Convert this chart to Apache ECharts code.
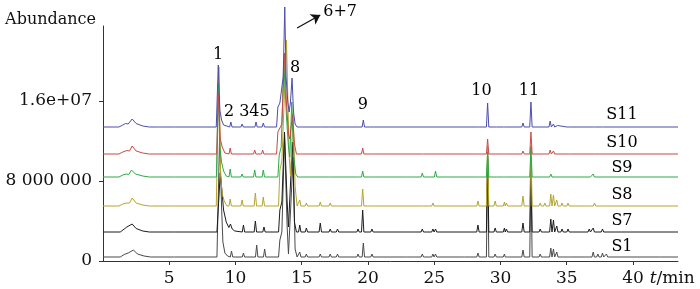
<!DOCTYPE html>
<html>
<head>
<meta charset="utf-8">
<script src="https://cdn.jsdelivr.net/npm/echarts@6/dist/echarts.min.js"></script>
<style>
  html, body { margin: 0; padding: 0; background: #fff; }
  #chart { width: 700px; height: 289px; }
</style>
</head>
<body>
<div id="chart"></div>
<script>
// abundance values in units of 1e6, time in min
const UNIT = 1e6;
const sampleNames = ['S1', 'S7', 'S8', 'S9', 'S10', 'S11'];
// vertical offset of each trace in the stacked plot
const offsets = [0.4, 2.9, 5.5, 8.4, 10.7, 13.4];

const xTicks = [5, 10, 15, 20, 25, 30, 35, 40];
const yTickValues = [0, 8e6, 16e6];
const yTickLabels = ['0', '8 000 000', '1.6e+07'];

// broad / overlapping regions as [t, signal]
const s1Shape = [
  [1.3, 0], [1.6, 0.25], [1.9, 0.4], [2.05, 0.3], [2.3, 0.7], [2.6, 0.3], [3.1, 0.1], [3.6, 0],
  [8.6, 0], [8.8, 12.0], [8.95, 5.0], [9.05, 1.5], [9.2, 0.4], [9.4, 0.1], [9.5, 0],
  [13.25, 0], [13.35, 1.7], [13.5, 2.5], [13.7, 12.0], [13.9, 3.0], [14.0, 0.3], [14.1, 0.3], [14.35, 10.0], [14.5, 0.8], [14.65, 0]
];
const s7Shape = [
  [1.3, 0], [1.6, 0.3], [1.8, 0.5], [1.95, 0.35], [2.2, 0.8], [2.5, 0.35], [3.0, 0.1], [3.5, 0],
  [8.6, 0], [8.85, 5.9], [8.95, 4.5], [9.1, 2.2], [9.3, 1.0], [9.5, 0.45], [9.62, 0.8], [9.75, 0.3], [9.95, 0.1], [10.1, 0],
  [13.25, 0], [13.35, 2.2], [13.5, 3.0], [13.7, 10.0], [13.9, 3.0], [14.0, 0.5], [14.1, 0.5], [14.3, 9.0], [14.45, 1.0], [14.6, 0]
];
const s8Shape = [
  [1.2, 0], [1.5, 0.2], [1.8, 0.3], [2.0, 0.3], [2.2, 0.8], [2.5, 0.3], [3.0, 0.1], [3.5, 0],
  [8.55, 0], [8.75, 13.9], [8.88, 3.0], [9.0, 1.2], [9.15, 0.5], [9.35, 0],
  [13.25, 0], [13.35, 3.6], [13.5, 4.5], [13.85, 16.6], [14.05, 5.0], [14.15, 3.0], [14.35, 9.3], [14.5, 2.0], [14.65, 0]
];
const s9Shape = [
  [1.2, 0], [1.5, 0.2], [1.75, 0.3], [1.95, 0.25], [2.15, 0.7], [2.45, 0.3], [3.0, 0.1], [3.5, 0],
  [8.56, 0], [8.7, 9.4], [8.82, 3.0], [8.95, 1.5], [9.1, 0.6], [9.3, 0.1], [9.4, 0],
  [13.2, 0], [13.3, 2.2], [13.45, 3.0], [13.65, 11.5], [13.85, 6.0], [14.0, 3.0], [14.1, 2.0], [14.25, 7.5], [14.4, 2.0], [14.55, 0.3], [14.7, 0]
];
const s10Shape = [
  [1.2, 0], [1.5, 0.2], [1.8, 0.35], [2.0, 0.3], [2.2, 0.8], [2.5, 0.3], [3.0, 0.1], [3.5, 0],
  [8.58, 0], [8.72, 6.1], [8.85, 1.5], [9.0, 0.7], [9.2, 0.1], [9.3, 0],
  [13.1, 0], [13.2, 2.2], [13.35, 2.4], [13.5, 3.0], [13.7, 10.1], [13.85, 5.0], [14.0, 2.0], [14.1, 1.5], [14.3, 3.9], [14.45, 1.0], [14.6, 0]
];
const s11Shape = [
  [1.2, 0], [1.5, 0.2], [1.7, 0.35], [1.9, 0.3], [2.2, 0.8], [2.5, 0.35], [3.0, 0.1], [3.5, 0],
  [8.55, 0], [8.7, 6.2], [8.82, 1.7], [8.95, 0.7], [9.1, 0.2], [9.2, 0],
  [13.1, 0], [13.2, 2.0], [13.35, 2.4], [13.5, 2.6], [13.6, 5.0], [13.72, 12.0], [13.82, 5.0], [13.95, 2.5], [14.05, 1.5], [14.15, 2.5], [14.27, 4.9], [14.38, 1.5], [14.5, 0.3], [14.65, 0]
];

// isolated sharp peaks as [t, height]
const s1Peaks = [[5.3, 0.15], [9.7, 0.6], [10.6, 0.4], [11.6, 1.2], [12.2, 0.8], [14.85, 0.5], [15.35, 0.3], [16.4, 0.3], [17.15, 0.3], [17.7, 0.3], [19.25, 0.3], [19.65, 1.4], [20.3, 0.3], [22.8, 0.1], [23.4, 0.2], [24.1, 0.3], [24.9, 0.3], [25.1, 0.3], [27.2, 0.1], [28.3, 0.4], [29.03, 10.0], [29.6, 0.3], [30.3, 0.3], [30.45, 0.2], [31.7, 0.7], [32.3, 9.0], [33.0, 0.3], [33.35, 0.2], [33.8, 0.9], [34.0, 0.8], [34.25, 0.5], [34.65, 0.2], [35.1, 0.2], [36.5, 0.2], [37.0, 0.5], [37.35, 0.3], [37.7, 0.4], [38.0, 0.3], [42.1, 0.2]];
const s7Peaks = [[5.3, 0.1], [10.6, 0.7], [11.5, 1.1], [12.15, 0.5], [14.85, 0.7], [15.35, 0.4], [16.4, 0.9], [17.15, 0.3], [17.7, 0.3], [19.25, 0.3], [19.6, 2.2], [20.3, 0.3], [22.8, 0.1], [23.4, 0.1], [24.1, 0.3], [24.9, 0.3], [25.1, 0.3], [28.3, 0.7], [29.03, 8.0], [29.6, 0.4], [30.3, 0.4], [30.45, 0.3], [31.7, 0.9], [32.3, 7.0], [33.0, 0.3], [33.35, 0.2], [33.8, 1.3], [34.0, 1.2], [34.25, 0.6], [34.65, 0.3], [35.1, 0.3], [36.7, 0.3], [37.0, 0.4], [37.7, 0.3]];
const s8Peaks = [[5.3, 0.15], [9.6, 0.7], [10.5, 0.6], [11.5, 1.3], [12.1, 0.9], [14.85, 0.6], [15.35, 0.3], [16.4, 0.4], [17.15, 0.3], [17.7, 0.2], [19.25, 0.2], [19.6, 1.7], [20.3, 0.2], [24.1, 0.2], [24.9, 0.3], [25.1, 0.2], [28.3, 0.5], [29.03, 6.0], [29.6, 0.5], [30.3, 0.4], [30.45, 0.3], [31.7, 1.0], [32.3, 6.0], [33.0, 0.3], [33.35, 0.3], [33.8, 1.2], [34.0, 1.1], [34.25, 0.6], [34.65, 0.3], [35.1, 0.3], [36.7, 0.2], [37.1, 0.3], [37.7, 0.2]];
const s9Peaks = [[5.3, 0.15], [9.6, 0.8], [10.5, 0.3], [11.45, 0.7], [12.1, 0.7], [15.0, 0.1], [17.2, 0.2], [19.25, 0.2], [19.6, 0.6], [20.3, 0.2], [22.8, 0.1], [23.4, 0.2], [24.1, 0.4], [25.1, 0.6], [28.3, 0.2], [29.03, 2.5], [29.6, 0.2], [30.3, 0.2], [31.7, 0.1], [32.3, 3.0], [33.8, 0.3], [36.7, 0.2], [37.0, 0.3]];
const s10Peaks = [[5.3, 0.15], [9.6, 0.6], [10.5, 0.2], [11.45, 0.4], [12.05, 0.4], [15.0, 0.1], [17.2, 0.1], [19.6, 0.6], [20.3, 0.1], [24.1, 0.1], [28.3, 0.2], [29.03, 1.5], [30.3, 0.2], [31.7, 0.3], [32.3, 2.2], [33.75, 0.4], [34.0, 0.3], [35.2, 0.1], [37.0, 0.1]];
const s11Peaks = [[4.3, 0.1], [5.3, 0.2], [9.65, 0.5], [10.5, 0.3], [11.55, 0.5], [12.1, 0.4], [15.0, 0.1], [16.4, 0.1], [17.2, 0.1], [19.65, 0.7], [20.3, 0.1], [28.3, 0.2], [29.03, 2.4], [29.6, 0.2], [30.3, 0.1], [31.7, 0.4], [32.3, 2.5], [33.75, 0.6], [34.0, 0.3], [34.3, 0.15], [35.1, 0.1], [37.1, 0.15], [37.7, 0.15]];

// annotations [t, abundance, text]
const peakLabels = [[8.68, 20.6, '1'], [9.51, 14.9, '2'], [11.43, 14.9, '345'], [14.49, 19.3, '8'], [17.9, 24.9, '6+7'], [19.62, 15.6, '9'], [28.57, 17.0, '10'], [32.15, 17.0, '11']];
const sampleLabelPos = [[39.17, 1.4], [39.17, 4.0], [39.17, 6.6], [39.17, 9.3], [39.17, 11.8], [39.17, 14.6]];
const arrowCoords = [[14.65, 23.3], [16.4, 24.6]];

const X_MIN = 0, X_MAX = 43.4;
const shapes = [s1Shape, s7Shape, s8Shape, s9Shape, s10Shape, s11Shape];
const peakSets = [s1Peaks, s7Peaks, s8Peaks, s9Peaks, s10Peaks, s11Peaks];
const colors = ['#4a4a4a', '#1c1c1c', '#b5a52c', '#2caa45', '#c64b47', '#4d4dab'];
const HW = 0.09; // half width of a sharp peak drawn as a spike
const FONT = 'DejaVu Serif';

function buildTrace(shape, peaks, offset) {
  const pts = shape.slice();
  peaks.forEach(([t, h]) => {
    pts.push([t - HW, 0], [t, h], [t + HW, 0]);
  });
  pts.push([X_MIN, 0], [X_MAX, 0]);
  pts.sort((a, b) => a[0] - b[0]);
  return pts.map(([t, v]) => [t, (v + offset) * UNIT]);
}

const textLabel = {
  show: true,
  position: 'inside',
  formatter: p => p.data[2],
  color: '#000',
  opacity: 1,
  textBorderWidth: 0,
  fontFamily: FONT,
  fontSize: 16
};

const series = sampleNames.map((name, i) => ({
  name: name,
  type: 'line',
  data: buildTrace(shapes[i], peakSets[i], offsets[i]),
  showSymbol: false,
  symbol: 'none',
  clip: false,
  lineStyle: { color: colors[i], width: 1 },
  emphasis: { disabled: true },
  z: 2 + i
}));

[peakLabels, sampleLabelPos.map((d, i) => [d[0], d[1], sampleNames[i]])].forEach(list => {
  series.push({
    type: 'scatter',
    symbolSize: 1,
    clip: false,
    silent: true,
    z: 20,
    itemStyle: { color: 'rgba(0,0,0,0)', opacity: 1 },
    data: list.map(d => [d[0], d[1] * UNIT, d[2]]),
    label: textLabel
  });
});

series.push({
  type: 'lines',
  coordinateSystem: 'cartesian2d',
  clip: false,
  silent: true,
  z: 20,
  symbol: ['none', 'arrow'],
  symbolSize: [6, 9],
  lineStyle: { color: '#111', width: 1.3, opacity: 1 },
  data: [{ coords: arrowCoords.map(c => [c[0], c[1] * UNIT]) }]
});

const chart = echarts.init(document.getElementById('chart'));
chart.setOption({
  animation: false,
  backgroundColor: '#fff',
  grid: { left: 103, right: 22, top: 26, bottom: 28, outerBoundsMode: 'none' },
  xAxis: {
    type: 'value',
    min: X_MIN,
    max: X_MAX,
    interval: 5,
    name: '{i|t}/min',
    nameLocation: 'end',
    nameGap: -30,
    nameTextStyle: {
      fontFamily: FONT,
      fontSize: 17,
      color: '#111',
      align: 'left',
      verticalAlign: 'top',
      padding: [9, 0, 0, 0],
      rich: { i: { fontFamily: FONT, fontSize: 17, fontStyle: 'italic', color: '#111' } }
    },
    axisLine: { show: true, lineStyle: { color: '#333', width: 1 } },
    axisTick: { show: true, length: 4, customValues: xTicks, lineStyle: { color: '#333' } },
    axisLabel: {
      customValues: xTicks,
      margin: 9,
      color: '#111',
      fontFamily: FONT,
      fontSize: 17
    },
    splitLine: { show: false }
  },
  yAxis: {
    type: 'value',
    min: 0,
    max: 23.5e6,
    interval: 8e6,
    name: 'Abundance',
    nameLocation: 'end',
    nameGap: 6,
    nameTextStyle: {
      fontFamily: FONT,
      fontSize: 16,
      color: '#111',
      align: 'right',
      verticalAlign: 'middle',
      padding: [0, 7, 0, 0]
    },
    axisLine: { show: true, lineStyle: { color: '#333', width: 1 } },
    axisTick: { show: true, length: 4, customValues: yTickValues, lineStyle: { color: '#333' } },
    axisLabel: {
      customValues: yTickValues,
      margin: 11,
      color: '#111',
      fontFamily: FONT,
      fontSize: 17,
      formatter: v => yTickLabels[yTickValues.indexOf(v)] ?? ''
    },
    splitLine: { show: false }
  },
  series: series
});
</script>
</body>
</html>
